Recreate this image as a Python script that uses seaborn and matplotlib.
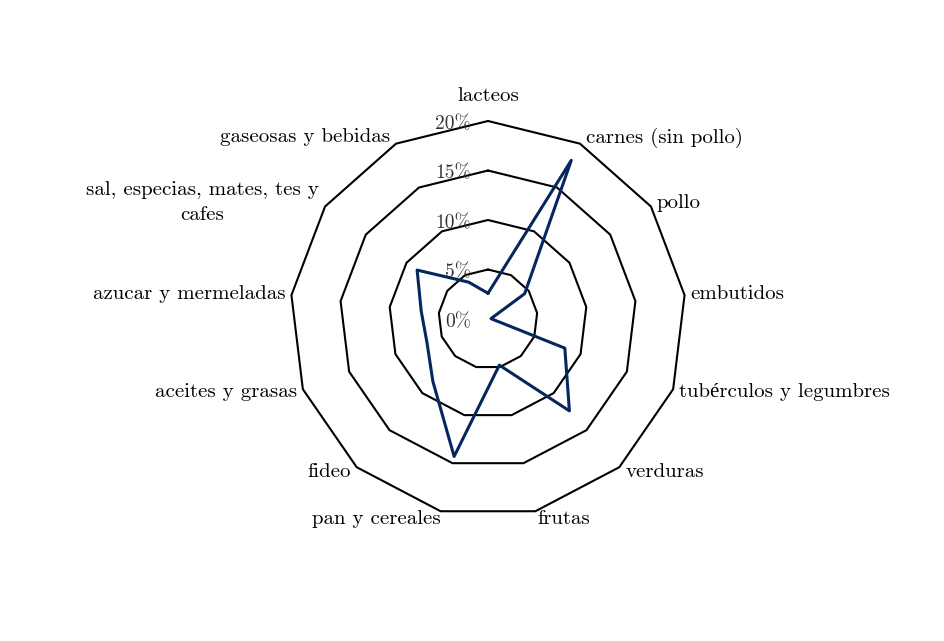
import numpy as np
import matplotlib
matplotlib.use("Agg")
import matplotlib.pyplot as plt
import matplotlib.transforms as mtransforms
import seaborn as sns
import pandas as pd

categories = ["lacteos", "carnes (sin pollo)", "pollo", "embutidos",
              "tubérculos y legumbres", "verduras", "frutas", "pan y cereales",
              "fideo", "aceites y grasas", "azucar y mermeladas",
              "sal, especias, mates, tes y\ncafes", "gaseosas y bebidas"]
values = [2.6, 18.1, 4.5, 0.3, 8.3, 12.4, 4.8, 14.3, 8.4, 6.6, 6.8, 8.7, 4.2]
ring_values = [5, 10, 15, 20]
ring_labels = ["0%", "5%", "10%", "15%", "20%"]
ring_label_values = [0, 5, 10, 15, 20]

sns.set_style("white")
plt.rcParams['font.family'] = ['cmr10', 'Liberation Serif', 'DejaVu Serif']
plt.rcParams['axes.unicode_minus'] = False
plt.rcParams['text.color'] = 'black'

fig = plt.figure(figsize=(9.45, 6.41), dpi=100)
cx, cy, R = 488 / 945, 1 - 319 / 641, 198
w, h = 2 * R / 945, 2 * R / 641
ax = fig.add_axes([cx - w / 2, cy - h / 2, w, h], projection='polar')
ax.set_theta_offset(np.pi / 2)
ax.set_theta_direction(-1)
ax.set_ylim(0, 20)
ax.grid(False)
ax.spines['polar'].set_visible(False)
ax.set_xticks([])
ax.set_yticks([])

n = len(categories)
angles = np.arange(n) * 2 * np.pi / n
closed_angles = np.append(angles, angles[0])

for r in ring_values:
    ax.plot(closed_angles, [r] * (n + 1), color='black', lw=1.5, clip_on=False, zorder=1)

df = pd.DataFrame({"theta": closed_angles, "val": values + [values[0]]})
sns.lineplot(data=df, x="theta", y="val", sort=False, estimator=None, ax=ax,
             color='#06265e', lw=2.2, zorder=3)
for ln in ax.lines:
    ln.set_clip_on(False)
ax.set_xlabel("")
ax.set_ylabel("")

off = mtransforms.offset_copy(ax.transData, fig=fig, x=-17, y=-3, units='dots')
for rv, lab in zip(ring_label_values, ring_labels):
    ax.text(0, rv, lab, transform=off, ha='right', va='center', fontsize=14,
            color='#333333', zorder=2)

for a, lab in zip(angles, categories):
    s, c = np.sin(a), np.cos(a)
    if abs(s) < 0.05:
        ha = 'center'
        ox = 0
    elif s > 0:
        ha = 'left'
        ox = 6 if abs(c) < 0.95 else 2
    else:
        ha = 'right'
        ox = -6 if abs(c) < 0.95 else 0
    if c > 0.99:
        oy = 25
    elif c < -0.95:
        oy = -8
    else:
        oy = 7 * c
    t = mtransforms.offset_copy(ax.transData, fig=fig, x=ox, y=oy, units='dots')
    ax.text(a, 20, lab, transform=t, ha=ha, va='center', fontsize=15,
            multialignment='center', color='black', linespacing=1.5)

fig.savefig("out.png", dpi=100, facecolor='white')
